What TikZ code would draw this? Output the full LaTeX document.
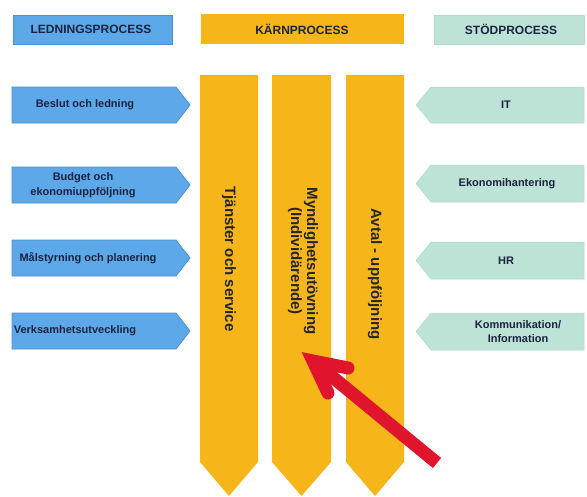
\documentclass[tikz,border=0pt]{standalone}
\usepackage{fontspec}
\setmainfont{Liberation Sans}
\definecolor{bluebox}{HTML}{5CA8E8}
\definecolor{blueedge}{HTML}{4A92D4}
\definecolor{orangebox}{HTML}{F6B519}
\definecolor{mintbox}{HTML}{BCE3D5}
\definecolor{mintedge}{HTML}{B0DACB}
\definecolor{txt}{HTML}{1C2340}
\definecolor{redarr}{HTML}{E0142D}
\begin{document}
\begin{tikzpicture}[x=1pt,y=-1pt,
  bluefill/.style={fill=bluebox,draw=blueedge,line width=0.8pt},
  mintfill/.style={fill=mintbox,draw=mintedge,line width=0.5pt},
  orangefill/.style={fill=orangebox,draw=none},
  headtxt/.style={font=\fontsize{12}{14}\selectfont\bfseries,text=txt,inner sep=0pt},
  boxtxt/.style={font=\fontsize{11}{14.5}\selectfont\bfseries,text=txt,inner sep=0pt,align=center},
  coltxt/.style={font=\fontsize{15}{16}\selectfont\bfseries,text=black!85,inner sep=0pt,align=center,rotate=-90},
  redarrow/.style={draw=redarr,line width=13pt}]
\useasboundingbox (0,0) rectangle (587,496);
\fill[white] (0,0) rectangle (587,496);

% headers
\fill[bluefill] (13,15) rectangle (172,44);
\node[headtxt] (hlead) at (91,29.5) {LEDNINGSPROCESS};
\fill[orangefill] (201,14) rectangle (404,44);
\node[headtxt] (hkarn) at (302,29.5) {KÄRNPROCESS};
\fill[mintfill] (434,15) rectangle (584,44);
\node[headtxt] (hstod) at (511,29.5) {STÖDPROCESS};

% left boxes
\filldraw[bluefill] (12,87) -- (176,87) -- (190,105) -- (176,123) -- (12,123) -- cycle;
\node[boxtxt] (l1) at (85,105) {Beslut och ledning};
\filldraw[bluefill] (12,167) -- (176,167) -- (190,185) -- (176,203) -- (12,203) -- cycle;
\node[boxtxt] (l2) at (83,185) {Budget och\\ekonomiuppföljning};
\filldraw[bluefill] (12,240) -- (176,240) -- (190,258) -- (176,276) -- (12,276) -- cycle;
\node[boxtxt] (l3) at (88,258) {Målstyrning och planering};
\filldraw[bluefill] (12,313) -- (176,313) -- (190,331) -- (176,349) -- (12,349) -- cycle;
\node[boxtxt] (l4) at (75,331) {Verksamhetsutveckling};

% right boxes
\filldraw[mintfill] (584,87) -- (431,87) -- (416,105) -- (431,123) -- (584,123) -- cycle;
\node[boxtxt] (r1) at (506,105) {IT};
\filldraw[mintfill] (584,165) -- (431,165) -- (416,183.5) -- (431,202) -- (584,202) -- cycle;
\node[boxtxt] (r2) at (507,183.5) {Ekonomihantering};
\filldraw[mintfill] (584,242) -- (431,242) -- (416,260.5) -- (431,279) -- (584,279) -- cycle;
\node[boxtxt] (r3) at (506,260.5) {HR};
\filldraw[mintfill] (584,313) -- (431,313) -- (416,331.5) -- (431,350) -- (584,350) -- cycle;
\node[boxtxt] (r4) at (518,331.5) {Kommunikation/\\Information};

% columns
\fill[orangefill] (200,75) -- (258,75) -- (258,462) -- (229,496) -- (200,462) -- cycle;
\node[coltxt] (c1) at (229,259) {Tjänster och service};
\fill[orangefill] (272,75) -- (331,75) -- (331,462) -- (301.5,496) -- (272,462) -- cycle;
\node[coltxt] (c2) at (303,261) {Myndighetsutövning\\(Individärende)};
\fill[orangefill] (346,75) -- (404,75) -- (404,462) -- (375,496) -- (346,462) -- cycle;
\node[coltxt] (c3) at (375,274) {Avtal - uppföljning};

% red arrow
\coordinate (rtail) at (437,463);
\coordinate (rtip) at (313,361);
\coordinate (rw1) at (348,368);
\coordinate (rw2) at (328,393);
\draw[redarrow,line cap=butt] (rtail) -- (rtip);
\draw[redarrow,line cap=round,line join=miter] (rw1) -- (rtip) -- (rw2);
\end{tikzpicture}
\end{document}
